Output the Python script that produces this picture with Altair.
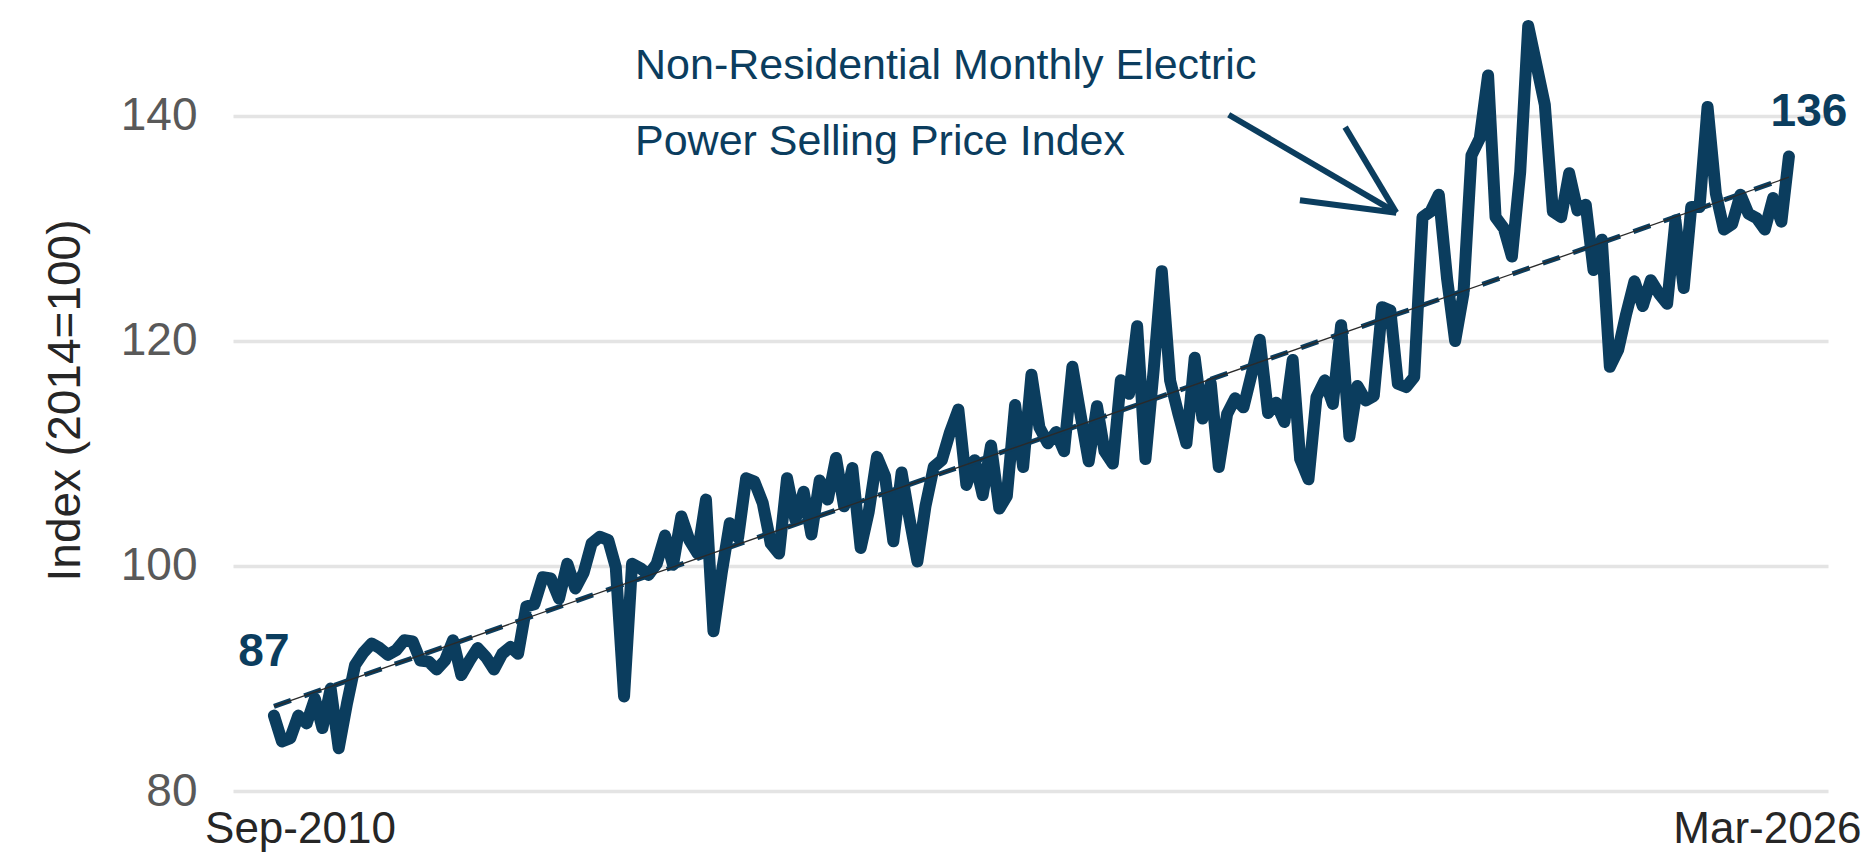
import altair as alt
import pandas as pd

# ---- data -------------------------------------------------------------
START = "2010-09-01"
values = [
    86.7, 84.4, 84.7, 86.7, 86.0, 88.2, 85.6, 89.1, 83.8, 87.8,
    91.2, 92.3, 93.1, 92.7, 92.1, 92.5, 93.4, 93.3, 91.6, 91.5,
    90.8, 91.6, 93.4, 90.3, 91.6, 92.7, 91.9, 90.8, 92.2, 92.8,
    92.2, 96.4, 96.6, 99.0, 98.9, 97.1, 100.2, 98.0, 99.4, 102.0,
    102.6, 102.3, 99.9, 88.4, 100.2, 99.8, 99.2, 100.2, 102.7, 100.1,
    104.4, 102.3, 101.1, 105.9, 94.2, 99.4, 103.8, 102.5, 107.8, 107.5,
    105.6, 102.0, 101.1, 107.8, 104.1, 106.6, 102.8, 107.6, 105.9, 109.6,
    105.3, 108.7, 101.6, 104.8, 109.7, 108.0, 102.2, 108.3, 104.4, 100.4,
    105.3, 108.8, 109.4, 111.9, 113.9, 107.2, 109.4, 106.3, 110.7, 105.1,
    106.2, 114.3, 108.8, 117.0, 112.3, 110.9, 111.9, 110.2, 117.7, 113.5,
    109.3, 114.2, 110.2, 109.1, 116.5, 115.3, 121.3, 109.5, 117.5, 126.2,
    116.5, 113.6, 110.9, 118.5, 113.1, 116.2, 108.8, 113.5, 114.9, 114.1,
    117.1, 120.1, 113.6, 114.5, 112.8, 118.3, 109.5, 107.7, 115.0, 116.5,
    114.4, 121.4, 111.5, 116.0, 114.7, 115.1, 123.0, 122.7, 116.2, 115.9,
    116.8, 131.0, 131.5, 133.0, 125.5, 120.0, 124.2, 136.5, 138.0, 143.6,
    131.0, 130.0, 127.5, 135.0, 148.0, 144.5, 141.0, 131.5, 131.0, 134.9,
    131.6, 132.1, 126.3, 129.0, 117.7, 119.2, 122.4, 125.3, 123.1, 125.4,
    124.2, 123.3, 130.7, 124.7, 131.9, 131.9, 140.8, 133.1, 129.9, 130.4,
    133.0, 131.3, 130.9, 129.9, 132.7, 130.6, 136.4,
]
months = pd.date_range(START, periods=len(values), freq="MS").strftime("%Y-%m-%d").tolist()

y_ticks = [80, 100, 120, 140]
y_title = "Index (2014=100)"

note_lines = ["Non-Residential Monthly Electric", "Power Selling Price Index"]
note_dates = ["2014-05-12", "2014-05-12"]
note_values = [143.3, 136.5]

arrow_from_dates = ["2020-06-07", "2021-08-16", "2021-02-28"]
arrow_from_values = [140.1, 139.0, 132.5]
arrow_to_dates = ["2022-02-23", "2022-02-23", "2022-02-23"]
arrow_to_values = [131.4, 131.4, 131.4]

# ---- style ------------------------------------------------------------
NAVY = "#0b3d5e"
FONT = "Liberation Sans"

df = pd.DataFrame({"date": months, "value": values})
ends = pd.DataFrame({
    "date": [months[0], months[-1]],
    "value": [values[0], values[-1]],
    "label": [f"{values[0]:.0f}", f"{values[-1]:.0f}"],
    "pos": ["first", "last"],
})
notes = pd.DataFrame({"date": note_dates, "value": note_values, "text": note_lines})
arrow = pd.DataFrame({
    "date": arrow_from_dates, "value": arrow_from_values,
    "date2": arrow_to_dates, "value2": arrow_to_values,
})

x_scale = alt.Scale(
    type="utc",
    domain=[alt.DateTime(year=2010, month=4, date=1, utc=True),
            alt.DateTime(year=2026, month=7, date=25, utc=True)],
)
y_scale = alt.Scale(domain=[80, 149.5], nice=False, zero=False)

x_axis = alt.Axis(
    values=[alt.DateTime(year=2010, month=9, date=1, utc=True),
            alt.DateTime(year=2026, month=3, date=1, utc=True)],
    labelExpr="utcFormat(datum.value, '%b-%Y')",
    grid=False, ticks=False, domain=False,
    labelFont=FONT, labelFontSize=44, labelColor="#262626",
    labelPadding=16, labelFlush=False, labelOverlap=False, labelBound=False,
    labelLimit=0,
    labelOffset={"condition": {"test": "datum.value < 1500000000000", "value": 26}, "value": -22},
)
y_axis = alt.Axis(
    values=y_ticks, grid=True, gridColor="#e4e4e4", gridWidth=3.5,
    ticks=False, domain=False,
    labelFont=FONT, labelFontSize=46, labelColor="#595959", labelPadding=36,
    titleFont=FONT, titleFontSize=46, titleColor="#262626", titleFontWeight="normal",
    titlePadding=31,
)


def X(field="date"):
    return alt.X(f"{field}:T", scale=x_scale, axis=x_axis, title=None)


def Y(field="value"):
    return alt.Y(f"{field}:Q", scale=y_scale, axis=y_axis, title=y_title)


line = alt.Chart(df).mark_line(
    color=NAVY, strokeWidth=12, strokeJoin="round", strokeCap="round"
).encode(x=X(), y=Y())

trend_base = alt.Chart(df).transform_calculate(
    t="toDate(datum.date)"
).transform_regression("t", "value")

trend_dash = trend_base.mark_line(
    color=NAVY, strokeWidth=5, strokeDash=[18, 14]
).encode(x=X("t"), y=Y())
trend_thin = trend_base.mark_line(color="#2a2a2a", strokeWidth=1.3).encode(x=X("t"), y=Y())

first_lbl = alt.Chart(ends).transform_filter("datum.pos == 'first'").mark_text(
    font=FONT, fontSize=46, fontWeight="bold", color=NAVY,
    align="center", baseline="alphabetic", dx=-10, dy=-50,
).encode(x=X(), y=Y(), text="label:N")

last_lbl = alt.Chart(ends).transform_filter("datum.pos == 'last'").mark_text(
    font=FONT, fontSize=46, fontWeight="bold", color=NAVY,
    align="center", baseline="alphabetic", dx=20, dy=-30,
).encode(x=X(), y=Y(), text="label:N")

note_txt = alt.Chart(notes).mark_text(
    font=FONT, fontSize=43, color=NAVY, align="left", baseline="alphabetic"
).encode(x=X(), y=Y(), text="text:N")

arrow_rule = alt.Chart(arrow).mark_rule(
    color=NAVY, strokeWidth=6, strokeCap="butt"
).encode(x=X(), y=Y(), x2="date2:T", y2="value2:Q")

chart = alt.layer(
    line, trend_dash, trend_thin, first_lbl, last_lbl, note_txt, arrow_rule
).properties(
    width=1595, height=782,
    padding={"left": 225, "top": 1, "right": 38, "bottom": 66},
    autosize=alt.AutoSizeParams(type="none"),
    background="white",
).configure_view(stroke=None)

chart.save("out.html", embed_options={"renderer": "svg", "actions": False})
